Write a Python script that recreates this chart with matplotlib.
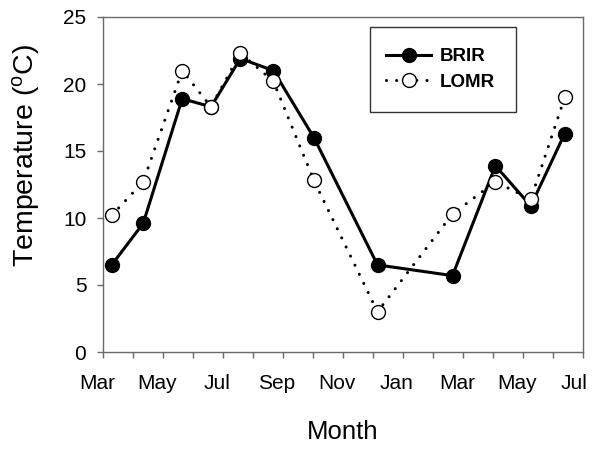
import matplotlib
matplotlib.use("Agg")
import matplotlib.pyplot as plt
from matplotlib.ticker import MultipleLocator
from matplotlib.patches import Rectangle
from matplotlib.transforms import ScaledTranslation

plt.rcParams['font.family'] = ['Liberation Sans', 'DejaVu Sans']
plt.rcParams['mathtext.fontset'] = 'custom'
plt.rcParams['mathtext.rm'] = 'Liberation Sans'

# Sampling dates as months elapsed since 1 March
months = [0.29, 1.34, 2.64, 3.60, 4.58, 5.68, 7.03, 9.15, 11.65, 13.08, 14.26, 15.39]
brir = [6.5, 9.6, 18.9, 18.3, 21.9, 21.0, 16.0, 6.5, 5.7, 13.9, 10.9, 16.3]
lomr = [10.2, 12.7, 21.0, 18.3, 22.3, 20.2, 12.8, 3.0, 10.3, 12.7, 11.4, 19.0]

tick_pos = [0, 2, 4, 6, 8, 10, 12, 14, 16]
tick_labels = ['Mar', 'May', 'Jul', 'Sep', 'Nov', 'Jan', 'Mar', 'May', 'Jul']

W, H = 594, 449
fig = plt.figure(figsize=(W / 100, H / 100), dpi=100)
ax_l, ax_r, ax_t, ax_b = 103, 583, 17, 352
ax = fig.add_axes([ax_l / W, (H - ax_b) / H, (ax_r - ax_l) / W, (ax_b - ax_t) / H])

ax.plot(months, brir, color='black', lw=2.2, marker='o', markersize=10,
        markerfacecolor='black', markeredgecolor='black', label='BRIR', zorder=3)
ax.plot(months, lomr, color='black', lw=2.2, linestyle=(0, (0.01, 3.3)),
        dash_capstyle='round', marker='o', markersize=10,
        markerfacecolor='white', markeredgecolor='black', markeredgewidth=1.0,
        label='LOMR', zorder=4)

ax.set_xlim(0, 16)
ax.set_ylim(0, 25)
ax.set_xticks(tick_pos)
ax.set_xticklabels(tick_labels)
ax.xaxis.set_minor_locator(MultipleLocator(1))
ax.set_yticks([0, 5, 10, 15, 20, 25])

spine_color = '#6a6a6a'
for s in ax.spines.values():
    s.set_color(spine_color)
    s.set_linewidth(1.0)
ax.tick_params(axis='both', which='both', direction='out', length=4,
               width=1.0, color=spine_color, labelsize=15)
ax.tick_params(axis='x', which='both', pad=12)
ax.tick_params(axis='y', which='both', pad=8)

# Month labels sit slightly left of their ticks; the last one stays inside the figure
labels = ax.get_xticklabels()
for i, lab in enumerate(labels):
    dx = -9 if i == len(labels) - 1 else -6
    lab.set_transform(lab.get_transform() + ScaledTranslation(dx / 100, 0, fig.dpi_scale_trans))


def ax_x(px):
    return (px - ax_l) / (ax_r - ax_l)


def ax_y(py):
    return (ax_b - py) / (ax_b - ax_t)


ax.set_xlabel('Month', fontsize=18.5)
ax.xaxis.set_label_coords(0.5, ax_y(420))
ax.set_ylabel('Temperature ($\\mathregular{^{o}}$C)', fontsize=20.5)
ax.yaxis.set_label_coords(ax_x(42), ax_y(156))

# Legend with a separately drawn frame
leg = ax.legend(loc='upper left', bbox_to_anchor=(ax_x(386), ax_y(48)),
                frameon=False, prop={'weight': 'bold', 'size': 13.5},
                handlelength=2.4, borderpad=0, labelspacing=0.45,
                handletextpad=0.45, borderaxespad=0)
ax.add_patch(Rectangle((ax_x(370), ax_y(112)), ax_x(516) - ax_x(370),
                       ax_y(27) - ax_y(112), transform=ax.transAxes,
                       fill=False, edgecolor='#333333', lw=1.0, zorder=5))

fig.savefig('out.png', dpi=100)
